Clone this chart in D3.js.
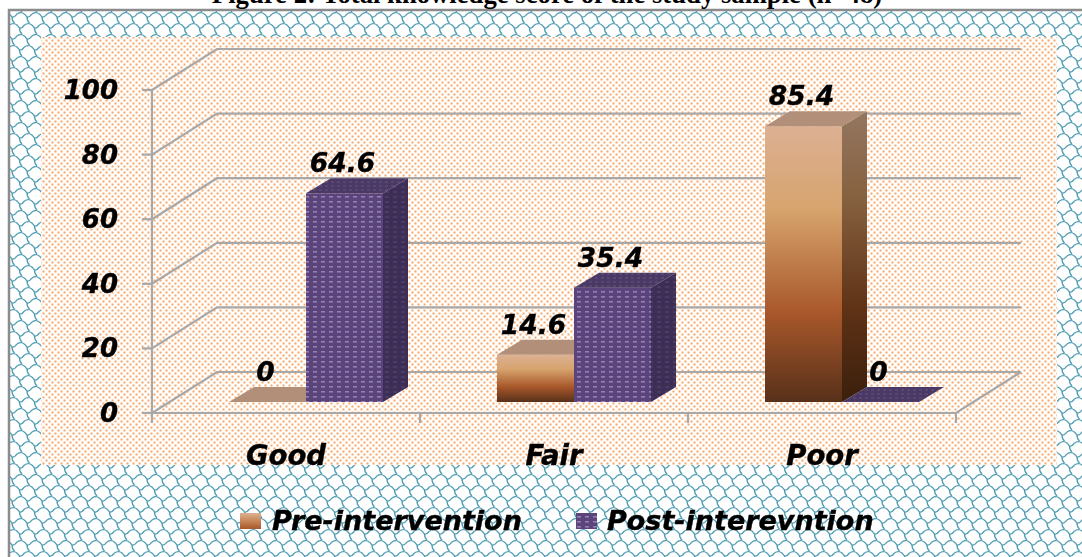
<!DOCTYPE html>
<html><head><meta charset="utf-8">
<script src="https://d3js.org/d3.v7.min.js"></script>
<style>html,body{margin:0;padding:0;background:#fff;overflow:hidden}svg{display:block}</style>
</head><body><svg id="c" width="1082" height="557"></svg>
<script>
const categories=["Good","Fair","Poor"];
const seriesNames=["Pre-intervention","Post-interevntion"];
const preValues=[0,14.6,85.4];
const postValues=[64.6,35.4,0];
const yTicks=[0,20,40,60,80,100];
const title="Figure 2: Total knowledge score of the study sample (n=48)";

const svg=d3.select("#c"),defs=svg.append("defs");
const font="'DejaVu Sans',sans-serif";
const x=d3.scaleBand().domain(categories).range([152,956]);
const y=d3.scaleLinear().domain([0,100]).range([413,90]);
const wallDx=65,wallDy=-41,barShift=20,barFloor=11,depthX=25,depthY=-15;
const inner=d3.scaleBand().domain(seriesNames).range([-77,77]);

defs.append("filter").attr("id","soft").attr("x","-5%").attr("y","-20%").attr("width","110%").attr("height","140%")
  .append("feGaussianBlur").attr("stdDeviation",0.45);
const scale=defs.append("pattern").attr("id","scales").attr("patternUnits","userSpaceOnUse")
  .attr("width",15).attr("height",22).attr("y",14).attr("x",2);
scale.append("rect").attr("width",15).attr("height",22).attr("fill","#fff");
const unit="q5 -4 10 3 q2 1 5 -3 m-5 3 q0 4 2.5 6";
[[-15,-22],[0,-22],[15,-22],[-7.5,-11],[7.5,-11],[-15,0],[0,0],[15,0],[-7.5,11],[7.5,11],[-15,22],[0,22],[15,22]].forEach(o=>
  scale.append("path").attr("d",`M${o[0]} ${o[1]} ${unit}`).attr("fill","none").attr("stroke","#4f9db3").attr("stroke-width",1.3));
const dots=defs.append("pattern").attr("id","dots").attr("patternUnits","userSpaceOnUse")
  .attr("width",6).attr("height",6);
dots.append("rect").attr("width",6).attr("height",6).attr("fill","#fff");
[[0.5,0.5],[3.5,3.5]].forEach(p=>dots.append("rect").attr("x",p[0]).attr("y",p[1]).attr("width",2).attr("height",2).attr("fill","#f7a566"));
function purple(id,base,dot,op,w,h,dw,dh){
  const p=defs.append("pattern").attr("id",id).attr("patternUnits","userSpaceOnUse").attr("width",w).attr("height",h);
  p.append("rect").attr("width",w).attr("height",h).attr("fill",base);
  p.append("rect").attr("x",1).attr("y",1).attr("width",dw).attr("height",dh).attr("fill",dot).attr("opacity",op);
}
purple("pFront","#5b447c","#a08fbb",.8,8,5,4,1.6);
purple("pSide","#3d2e55","#4f3f6c",.8,8,5,4,2);
purple("pTop","#4a3964","#5e4c7a",.7,6,4,3,2);
function grad(id,stops){
  const g=defs.append("linearGradient").attr("id",id).attr("x1",0).attr("y1",0).attr("x2",0).attr("y2",1);
  stops.forEach(s=>g.append("stop").attr("offset",s[0]).attr("stop-color",s[1]));
}
grad("bFront",[[0,"#dcb093"],[.3,"#d7a46e"],[.68,"#a8572a"],[1,"#57301a"]]);
grad("bSide",[[0,"#947660"],[.3,"#86613f"],[.68,"#5f3216"],[1,"#3a1f0c"]]);
grad("bLegend",[[0,"#dcb093"],[.45,"#c98a5b"],[1,"#a8572a"]]);

svg.append("rect").attr("x",9).attr("y",10).attr("width",1085).attr("height",560)
  .attr("fill","url(#scales)").attr("stroke","#8c8c8c").attr("stroke-width",2.5);
svg.append("rect").attr("x",41).attr("y",37).attr("width",1016).attr("height",428).attr("fill","url(#dots)");

svg.append("text").attr("x",547).attr("y",3).attr("text-anchor","middle")
  .attr("font-family","'Liberation Serif',serif").attr("font-weight","bold").attr("font-size",26.7)
  .attr("fill","#000").text(title);

const g=svg.append("g").attr("fill","none").attr("stroke","#a8a8a8").attr("stroke-width",2.2);
yTicks.forEach(t=>{
  g.append("path").attr("d",d3.line()([[x.range()[0],y(t)],[x.range()[0]+wallDx,y(t)+wallDy],[x.range()[1]+wallDx,y(t)+wallDy]]));
  g.append("path").attr("d",d3.line()([[x.range()[0]-10,y(t)],[x.range()[0],y(t)]]));
});
g.append("path").attr("d",d3.line()([[x.range()[0],y(100)],[x.range()[0],y(0)],[x.range()[1],y(0)],[x.range()[1]+wallDx,y(0)+wallDy]]));
categories.concat([null]).forEach((c,i)=>{
  const px=x.range()[0]+i*x.step();
  g.append("path").attr("d",d3.line()([[px,y(0)],[px,y(0)+10]]));
});

function bar(cat,ser,val,front,side,top){
  const b=svg.append("g");
  const x0=x(cat)+x.bandwidth()/2+barShift+inner(ser),x1=x0+inner.bandwidth();
  const by=y(0)-barFloor,ty=y(val)-barFloor;
  const poly=p=>p.map(q=>q.join(",")).join(" ");
  if(val>0){
    b.append("polygon").attr("points",poly([[x1,by],[x1+depthX,by+depthY],[x1+depthX,ty+depthY],[x1,ty]])).attr("fill",side);
    b.append("rect").attr("x",x0).attr("y",ty).attr("width",x1-x0).attr("height",by-ty).attr("fill",front);
  }
  b.append("polygon").attr("points",poly([[x0,ty],[x1,ty],[x1+depthX,ty+depthY],[x0+depthX,ty+depthY]])).attr("fill",top);
  return [x0,ty];
}
const labels=[];
categories.forEach((c,i)=>{
  const a=bar(c,seriesNames[0],preValues[i],"url(#bFront)","url(#bSide)","#b28f78");
  const b=bar(c,seriesNames[1],postValues[i],"url(#pFront)","url(#pSide)","url(#pTop)");
  labels.push([a,preValues[i]],[b,postValues[i]]);
});
const tf={"font-family":font,"font-weight":"bold","font-style":"italic","fill":"#000","stroke":"#000","stroke-width":0.4,"filter":"url(#soft)"};
function txt(s,px,py,size,anchor){
  const t=svg.append("text").attr("x",px).attr("y",py).attr("font-size",size).attr("text-anchor",anchor).text(s);
  Object.entries(tf).forEach(([k,v])=>t.attr(k,v));
  return t;
}
labels.forEach(([p,v])=>txt(v,p[0]+inner.bandwidth()/2-2,p[1]-21,26.5,"middle"));
yTicks.forEach(t=>txt(t,118,y(t)+9,26,"end"));
categories.forEach(c=>txt(c,x(c)+x.bandwidth()/2,y(0)+52,27.5,"middle"));

const lg=[[240,272,"url(#bLegend)"],[576,607,"url(#pFront)"]];
seriesNames.forEach((s,i)=>{
  svg.append("rect").attr("x",lg[i][0]).attr("y",513).attr("width",21).attr("height",16).attr("fill",lg[i][2]);
  txt(s,lg[i][1],530,27,"start");
});
</script></body></html>
